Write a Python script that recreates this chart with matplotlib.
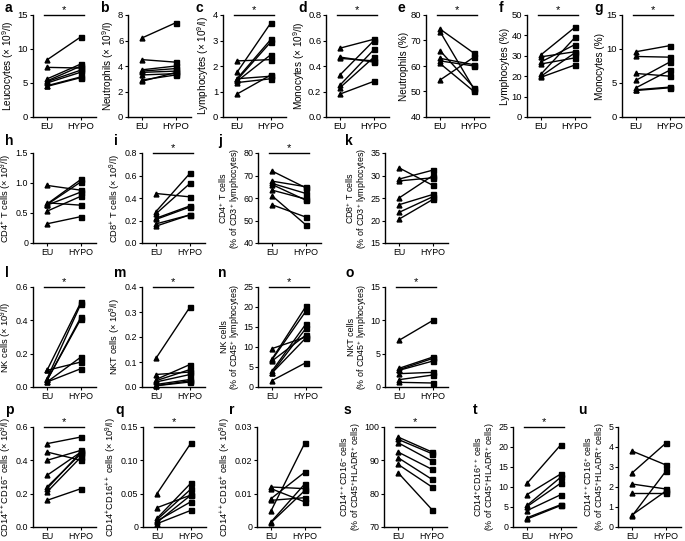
import matplotlib
matplotlib.use("Agg")
import matplotlib.pyplot as plt

plt.rcParams['font.family'] = ['Liberation Sans', 'DejaVu Sans']
plt.rcParams['mathtext.fontset'] = 'custom'
plt.rcParams['mathtext.rm'] = 'Liberation Sans'
plt.rcParams['mathtext.it'] = 'Liberation Sans'
plt.rcParams['mathtext.bf'] = 'Liberation Sans:bold'

groups = ["EU", "HYPO"]

# paired values, EU -> HYPO
a_eu = [8.4, 7.3, 5.6, 5.3, 5.2, 5.0, 4.6, 4.5]
a_hypo = [11.8, 7.2, 7.8, 7.5, 6.9, 6.6, 5.9, 5.8]
b_eu = [6.2, 4.5, 3.7, 3.6, 3.5, 3.3, 2.9, 2.8]
b_hypo = [7.4, 4.3, 4.0, 3.8, 3.6, 3.4, 3.3, 3.5]
c_eu = [2.2, 1.75, 1.5, 1.45, 1.4, 1.5, 1.35, 0.9]
c_hypo = [2.25, 3.7, 3.05, 2.95, 2.45, 1.6, 1.5, 1.65]
d_eu = [0.54, 0.47, 0.46, 0.33, 0.25, 0.23, 0.18]
d_hypo = [0.61, 0.43, 0.44, 0.60, 0.53, 0.47, 0.28]
e_eu = [74.5, 73.5, 66, 63, 62, 61, 54.5]
e_hypo = [65, 51, 51.5, 60.5, 60, 50, 63.5]
f_eu = [30.5, 29.5, 27, 26, 21, 20, 19.5]
f_hypo = [44, 32, 35.5, 29, 39, 31.5, 25.5]
g_eu = [9.6, 8.9, 6.4, 5.4, 4.3, 4.0, 3.9]
g_hypo = [10.5, 8.8, 6.0, 8.1, 6.9, 4.4, 4.3]

h_eu = [0.96, 0.67, 0.65, 0.64, 0.63, 0.53, 0.32]
h_hypo = [0.88, 0.63, 1.06, 1.02, 0.85, 0.78, 0.44]
i_eu = [0.44, 0.28, 0.26, 0.22, 0.21, 0.17, 0.15]
i_hypo = [0.41, 0.62, 0.53, 0.33, 0.32, 0.25, 0.25]
j_eu = [72, 67.5, 66.5, 66, 63.5, 61, 57]
j_hypo = [64.5, 65, 62, 59, 59.5, 48, 51.5]
k_eu = [31.7, 29.2, 28.8, 25, 23.5, 21.8, 20.3]
k_hypo = [27.8, 31.2, 29.5, 30, 25.8, 25.3, 24.7]

l_eu = [0.10, 0.10, 0.05, 0.04, 0.04, 0.03, 0.03]
l_hypo = [0.15, 0.51, 0.50, 0.42, 0.41, 0.18, 0.11]
m_eu = [0.115, 0.05, 0.03, 0.025, 0.02, 0.01, 0.005, 0.005]
m_hypo = [0.32, 0.06, 0.09, 0.07, 0.05, 0.03, 0.025, 0.02]
n_eu = [9.6, 7.0, 6.8, 6.5, 4.0, 3.6, 3.5, 1.6]
n_hypo = [12.5, 20.2, 19, 13, 15.8, 14.7, 12.3, 6.1]
o_eu = [7.0, 2.8, 2.6, 2.5, 2.0, 1.1, 0.7]
o_hypo = [10, 4.5, 4.3, 3.9, 2.2, 1.8, 0.6]

p_eu = [0.50, 0.45, 0.40, 0.31, 0.24, 0.23, 0.21, 0.16]
p_hypo = [0.54, 0.40, 0.46, 0.45, 0.44, 0.45, 0.42, 0.23]
q_eu = [0.050, 0.029, 0.013, 0.011, 0.009, 0.007, 0.005]
q_hypo = [0.126, 0.048, 0.066, 0.057, 0.038, 0.048, 0.025]
r_eu = [0.012, 0.0115, 0.0085, 0.008, 0.0048, 0.0015, 0.0013]
r_hypo = [0.0115, 0.0075, 0.0165, 0.0088, 0.0253, 0.013, 0.011]
s_eu = [97, 96.3, 95.3, 92.5, 90.8, 88.8, 86.3]
s_hypo = [92.5, 92, 89.8, 87.3, 84.3, 82, 75.2]
t_eu = [10.9, 8.1, 5.4, 5.1, 4.1, 2.3, 2.0]
t_hypo = [20.6, 13.3, 12.5, 11.0, 8.1, 5.6, 5.4]
u_eu = [3.8, 2.7, 2.15, 1.7, 0.55, 0.6]
u_hypo = [3.1, 4.2, 1.9, 1.7, 2.8, 1.8]

ylabels = {
    'a': r'Leucocytes ($\times$ 10$^{9}$/l)',
    'b': r'Neutrophils ($\times$ 10$^{9}$/l)',
    'c': r'Lymphocytes ($\times$ 10$^{9}$/l)',
    'd': r'Monocytes ($\times$ 10$^{9}$/l)',
    'e': 'Neutrophils (%)',
    'f': 'Lymphocytes (%)',
    'g': 'Monocytes (%)',
    'h': r'CD4$^{+}$ T cells ($\times$ 10$^{9}$/l)',
    'i': r'CD8$^{+}$ T cells ($\times$ 10$^{9}$/l)',
    'j': 'CD4$^{+}$ T cells\n(% of CD3$^{+}$ lymphocytes)',
    'k': 'CD8$^{+}$ T cells\n(% of CD3$^{+}$ lymphocytes)',
    'l': r'NK cells ($\times$ 10$^{9}$/l)',
    'm': r'NKT cells ($\times$ 10$^{9}$/l)',
    'n': 'NK cells\n(% of CD45$^{+}$ lymphocytes)',
    'o': 'NKT cells\n(% of CD45$^{+}$ lymphocytes)',
    'p': r'CD14$^{++}$CD16$^{-}$ cells ($\times$ 10$^{9}$/l)',
    'q': r'CD14$^{+}$CD16$^{++}$ cells ($\times$ 10$^{9}$/l)',
    'r': r'CD14$^{++}$CD16$^{+}$ cells ($\times$ 10$^{9}$/l)',
    's': 'CD14$^{++}$CD16$^{-}$ cells\n(% of CD45$^{+}$HLADR$^{+}$ cells)',
    't': 'CD14$^{+}$CD16$^{++}$ cells\n(% of CD45$^{+}$HLADR$^{+}$ cells)',
    'u': 'CD14$^{++}$CD16$^{+}$ cells\n(% of CD45$^{+}$HLADR$^{+}$ cells)',
}

yticks = {
    'a': [0, 5, 10, 15], 'b': [0, 2, 4, 6, 8], 'c': [0, 1, 2, 3, 4],
    'd': [0, 0.2, 0.4, 0.6, 0.8], 'e': [40, 50, 60, 70, 80],
    'f': [0, 10, 20, 30, 40, 50], 'g': [0, 5, 10, 15],
    'h': [0, 0.5, 1.0, 1.5], 'i': [0, 0.2, 0.4, 0.6, 0.8],
    'j': [40, 50, 60, 70, 80], 'k': [15, 20, 25, 30, 35],
    'l': [0, 0.2, 0.4, 0.6], 'm': [0, 0.1, 0.2, 0.3, 0.4],
    'n': [0, 5, 10, 15, 20, 25], 'o': [0, 5, 10, 15],
    'p': [0, 0.2, 0.4, 0.6], 'q': [0, 0.05, 0.10, 0.15],
    'r': [0, 0.01, 0.02, 0.03], 's': [70, 80, 90, 100],
    't': [0, 5, 10, 15, 20, 25], 'u': [0, 1, 2, 3, 4, 5],
}
ticklabels = {
    'h': ['0', '0.5', '1.0', '1.5'],
    'q': ['0', '0.05', '0.10', '0.15'],
    'r': ['0', '0.01', '0.02', '0.03'],
}
starred = set('acdefgijlmnopqst')

data = {
    'a': (a_eu, a_hypo), 'b': (b_eu, b_hypo), 'c': (c_eu, c_hypo),
    'd': (d_eu, d_hypo), 'e': (e_eu, e_hypo), 'f': (f_eu, f_hypo),
    'g': (g_eu, g_hypo), 'h': (h_eu, h_hypo), 'i': (i_eu, i_hypo),
    'j': (j_eu, j_hypo), 'k': (k_eu, k_hypo), 'l': (l_eu, l_hypo),
    'm': (m_eu, m_hypo), 'n': (n_eu, n_hypo), 'o': (o_eu, o_hypo),
    'p': (p_eu, p_hypo), 'q': (q_eu, q_hypo), 'r': (r_eu, r_hypo),
    's': (s_eu, s_hypo), 't': (t_eu, t_hypo), 'u': (u_eu, u_hypo),
}

# layout in pixels: EU label centre per panel, rows (top, bottom), letter y
W, H = 685, 541
rows = [
    ('abcdefg', [47, 142, 237, 340, 440, 541, 636], (15, 117), 8),
    ('hijk', [47, 156, 272, 399], (153, 243), 141),
    ('lmno', [47, 156, 272, 399], (287, 387), 273),
    ('pqrstu', [47, 157, 271, 398, 527, 632], (427, 527), 410),
]
xlo, xhi, ppu = 0.6, 2.45, 34.0

fig = plt.figure(figsize=(W / 100, H / 100), dpi=100)

for letters, eus, (top, bot), ly in rows:
    for key, eu in zip(letters, eus):
        left = eu - (1 - xlo) * ppu
        width = (xhi - xlo) * ppu
        ax = fig.add_axes([left / W, 1 - bot / H, width / W, (bot - top) / H])
        ev, hv = data[key]
        for y0, y1 in zip(ev, hv):
            ax.plot([1, 2], [y0, y1], color='black', lw=1.0, zorder=2)
        ax.plot([1] * len(ev), ev, '^', color='black', ms=3.5, zorder=3, clip_on=False)
        ax.plot([2] * len(hv), hv, 's', color='black', ms=3.6, zorder=3, clip_on=False)
        ticks = yticks[key]
        ax.set_ylim(ticks[0], ticks[-1])
        ax.set_yticks(ticks)
        if key in ticklabels:
            ax.set_yticklabels(ticklabels[key])
        ax.set_xlim(xlo, xhi)
        ax.set_xticks([1, 2])
        ax.set_xticklabels(groups)
        for sp in ['top', 'right']:
            ax.spines[sp].set_visible(False)
        for sp in ['left', 'bottom']:
            ax.spines[sp].set_linewidth(1.0)
        ts = 6.8 if key in 'abcdefg' else 6.4
        ax.tick_params(labelsize=ts, length=2.5, width=0.8, pad=1.2)
        two_line = '\n' in ylabels[key]
        ls = 6.4 if two_line else (7.2 if key in 'abcdefg' else 6.7)
        ax.set_ylabel(ylabels[key], fontsize=ls, labelpad=1.0, linespacing=0.95)
        if key in starred:
            yt = ticks[-1]
            ax.plot([0.92, 2.1], [yt, yt], color='black', lw=1.0, clip_on=False)
            ax.text(1.5, yt, '*', ha='center', va='bottom', fontsize=8)
        off = 54 if two_line else 42
        fig.text((eu - off) / W, 1 - ly / H, key, fontsize=10, fontweight='bold',
                 ha='left', va='center')

fig.savefig('out.png', dpi=100)
